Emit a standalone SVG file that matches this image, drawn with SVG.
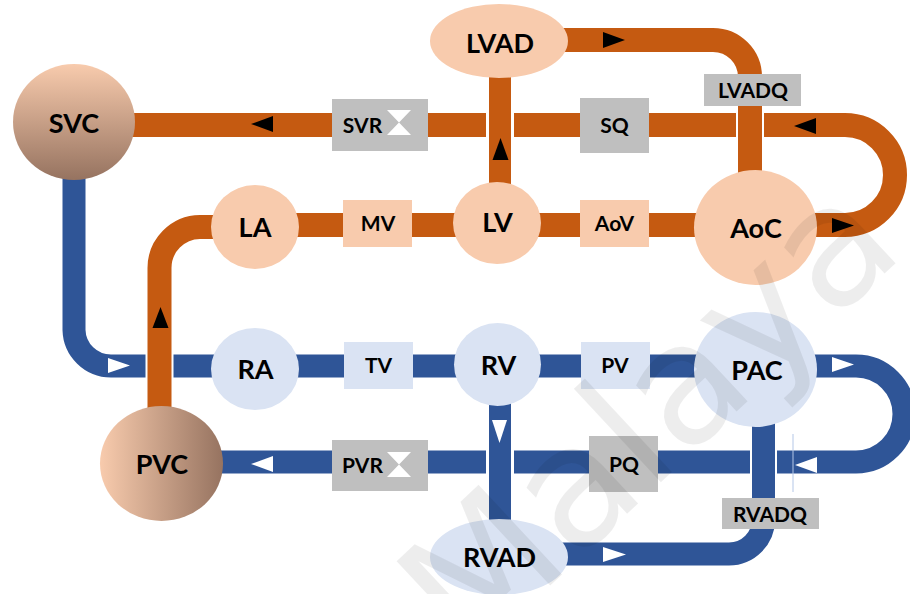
<svg xmlns="http://www.w3.org/2000/svg" width="910" height="594" viewBox="0 0 910 594">
  <style>
    .o { fill: none; stroke: #C55A11; stroke-width: 24; }
    .b { fill: none; stroke: #2F5597; stroke-width: 23; }
    .case { fill: none; stroke: #FFFFFF; stroke-width: 28; }
    .pe { fill: #F8CBAD; }
    .lb { fill: #DAE3F3; }
    .gr { fill: #BFBFBF; }
    .big { font-family: Lato, "Open Sans", "Liberation Sans", sans-serif; font-weight: 700; font-size: 27px; fill: #000; text-anchor: middle; }
    .sm { font-family: Lato, "Open Sans", "Liberation Sans", sans-serif; font-weight: 700; font-size: 21px; fill: #000; text-anchor: middle; }
    .ab { fill: #000; }
    .aw { fill: #FFF; }
  </style>
  <defs>
    <linearGradient id="gV" x1="0" y1="0" x2="0" y2="1">
      <stop offset="0" stop-color="#F8CBAD"/>
      <stop offset="1" stop-color="#967360"/>
    </linearGradient>
    <linearGradient id="gH" x1="0" y1="0" x2="1" y2="0">
      <stop offset="0" stop-color="#F8CBAD"/>
      <stop offset="1" stop-color="#967360"/>
    </linearGradient>
  </defs>

  <rect width="910" height="594" fill="#FFFFFF"/>

  <g id="connectors">
    <!-- systemic loop: AoC out, round the right bend, back along the top to SVC -->
    <path class="o" d="M 790 225 H 845 A 50 50 0 0 0 845 125 H 120"/>
    <!-- left heart row -->
    <path class="o" d="M 255 225 H 756"/>
    <!-- pulmonary loop: SVC down to RA, through RV and PAC, round the bend, back to PVC -->
    <path class="b" d="M 74 160 V 330 A 37 37 0 0 0 111 366 H 856 A 48 48 0 0 1 856 462 H 200"/>
    <line x1="793" y1="434" x2="793" y2="492" stroke="#B4C7E7" stroke-width="1"/>

    <!-- crossing verticals, each with a white casing -->
    <path class="case" d="M 560 40 H 713 A 37 37 0 0 1 750 77 V 180"/>
    <path class="o" d="M 560 40 H 713 A 37 37 0 0 1 750 77 V 180"/>
    <line class="case" x1="500" y1="70" x2="500" y2="190"/>
    <line class="o" x1="500" y1="70" x2="500" y2="190" style="stroke-width:22"/>
    <path class="case" d="M 215 227 H 200 A 41 41 0 0 0 159.5 268 V 410"/>
    <path class="o" d="M 215 227 H 200 A 41 41 0 0 0 159.5 268 V 410"/>
    <line class="case" x1="500" y1="400" x2="500" y2="528"/>
    <line class="b" x1="500" y1="400" x2="500" y2="528" style="stroke-width:22"/>
    <path class="case" d="M 560 554 H 729 A 34.5 34.5 0 0 0 763.5 519.5 V 420" style="stroke-width:27"/>
    <path class="b" d="M 560 554 H 729 A 34.5 34.5 0 0 0 763.5 519.5 V 420"/>

    <!-- flow arrows -->
    <polygon class="ab" points="251,124 273,116 273,132"/>
    <polygon class="ab" points="603,32 625,40 603,48"/>
    <polygon class="ab" points="500.5,138 492.5,160 508.5,160"/>
    <polygon class="ab" points="794,126 816,118 816,134"/>
    <polygon class="ab" points="832,218 854,225.5 832,233"/>
    <polygon class="ab" points="160.5,307 152.5,328 168.5,328"/>
    <polygon class="aw" points="108,358 130,365.5 108,373"/>
    <polygon class="aw" points="832,357 854,364.5 832,372"/>
    <polygon class="aw" points="795,465 817,457 817,473"/>
    <polygon class="aw" points="492,420 507,420 499.5,443"/>
    <polygon class="aw" points="603,547 626,554.5 603,562"/>
    <polygon class="aw" points="251,464 273,456 273,472"/>
  </g>

  <g id="SVC">
    <ellipse cx="74" cy="122" rx="61" ry="58" fill="url(#gV)"/>
    <text class="big" x="74" y="133">SVC</text>
  </g>
  <g id="LVAD">
    <ellipse class="pe" cx="499" cy="41" rx="69" ry="37"/>
    <text class="big" x="500" y="53">LVAD</text>
  </g>
  <g id="SVR">
    <rect class="gr" x="332" y="99" width="96" height="52"/>
    <text class="sm" x="362.5" y="133">SVR</text>
    <polygon class="aw" points="387,110 411,110 399,122.5 411,135 387,135 399,122.5"/>
  </g>
  <g id="SQ">
    <rect class="gr" x="580" y="98" width="69" height="55"/>
    <text class="sm" x="614.5" y="133">SQ</text>
  </g>
  <g id="LVADQ">
    <rect class="gr" x="704" y="74" width="97" height="32"/>
    <text class="sm" x="753" y="98">LVADQ</text>
  </g>
  <g id="LA">
    <ellipse class="pe" cx="255" cy="227" rx="44" ry="42"/>
    <text class="big" x="255" y="237">LA</text>
  </g>
  <g id="MV">
    <rect class="pe" x="343" y="200" width="69" height="47"/>
    <text class="sm" x="378" y="231">MV</text>
  </g>
  <g id="LV">
    <ellipse class="pe" cx="497" cy="223" rx="44" ry="41"/>
    <text class="big" x="497.5" y="232">LV</text>
  </g>
  <g id="AoV">
    <rect class="pe" x="580" y="200" width="69" height="47"/>
    <text class="sm" x="614.5" y="231">AoV</text>
  </g>
  <g id="AoC">
    <ellipse class="pe" cx="755.5" cy="227.5" rx="61.5" ry="57.5"/>
    <text class="big" x="756" y="238">AoC</text>
  </g>
  <g id="RA">
    <ellipse class="lb" cx="255" cy="369" rx="44" ry="41"/>
    <text class="big" x="255.5" y="379">RA</text>
  </g>
  <g id="TV">
    <rect class="lb" x="344" y="342" width="69" height="47"/>
    <text class="sm" x="378.5" y="373">TV</text>
  </g>
  <g id="RV">
    <ellipse class="lb" cx="497.5" cy="364.5" rx="43.5" ry="41.5"/>
    <text class="big" x="498.5" y="375">RV</text>
  </g>
  <g id="PV">
    <rect class="lb" x="581" y="342" width="69" height="47"/>
    <text class="sm" x="615" y="373">PV</text>
  </g>
  <g id="PAC">
    <ellipse class="lb" cx="755.5" cy="369.5" rx="61.5" ry="57.5"/>
    <text class="big" x="757" y="380">PAC</text>
  </g>
  <g id="PVC">
    <ellipse cx="161.5" cy="463.5" rx="61.5" ry="57.5" fill="url(#gH)"/>
    <text class="big" x="162" y="474">PVC</text>
  </g>
  <g id="PVR">
    <rect class="gr" x="332" y="440" width="96" height="51"/>
    <text class="sm" x="362.5" y="473">PVR</text>
    <polygon class="aw" points="387,452 411,452 399,464.5 411,477 387,477 399,464.5"/>
  </g>
  <g id="PQ">
    <rect class="gr" x="589" y="436" width="69" height="56"/>
    <text class="sm" x="624" y="472">PQ</text>
  </g>
  <g id="RVADQ">
    <rect class="gr" x="722" y="498" width="97" height="31"/>
    <text class="sm" x="770" y="522">RVADQ</text>
  </g>
  <g id="RVAD">
    <ellipse class="lb" cx="499" cy="557" rx="69" ry="38"/>
    <text class="big" x="499.5" y="567">RVAD</text>
  </g>

  <!-- faint watermark -->
  <text x="0" y="0" transform="translate(468 662) rotate(-43)" font-family="'DejaVu Sans', sans-serif" font-size="168" fill="#000" fill-opacity="0.07">Malaya</text>
</svg>
